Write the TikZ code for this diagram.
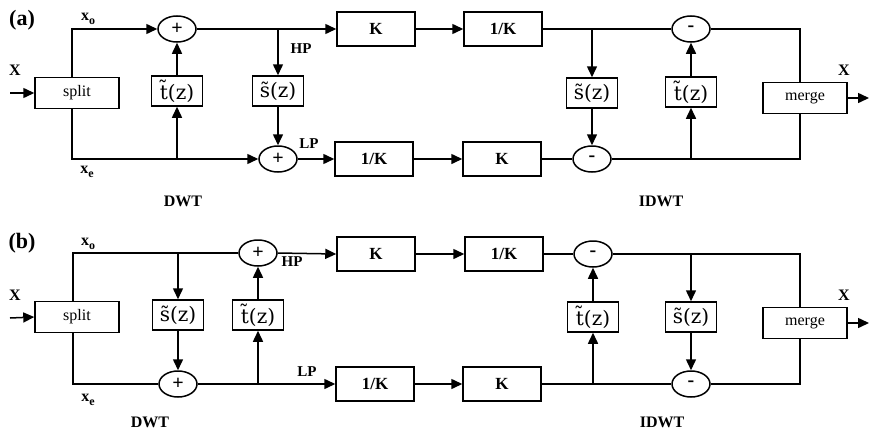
\documentclass[tikz,border=0pt]{standalone}
\usepackage{fontspec}
\setmainfont{Liberation Serif}
\newfontfamily\tzfont{DejaVu Serif}
\usetikzlibrary{shapes.geometric,arrows.meta}
\newcommand\subo[1]{\raisebox{-4pt}{\fontsize{12}{12}\selectfont\bfseries #1}}
\tikzset{
  ln/.style={line width=1.5pt},
  ar/.style={ln,-{Triangle[length=11pt,width=10pt]}},
  blk/.style={draw,line width=1.5pt,minimum width=78pt,minimum height=34pt,inner sep=0pt,font=\fontsize{17}{17}\selectfont\bfseries},
  wide/.style={draw,line width=1.5pt,minimum width=84pt,minimum height=31pt,inner sep=0pt,font=\fontsize{16}{16}\selectfont},
  flt/.style={draw,line width=1.5pt,minimum width=51pt,minimum height=30pt,inner sep=0pt,font=\tzfont\fontsize{20}{20}\selectfont},
  sum/.style={draw,ellipse,line width=1.5pt,minimum width=38pt,minimum height=26pt,inner sep=0pt,font=\fontsize{20}{20}\selectfont\bfseries},
  lbl/.style={font=\fontsize{16}{16}\selectfont\bfseries,inner sep=0pt},
  sml/.style={font=\fontsize{15}{15}\selectfont\bfseries,inner sep=0pt},
  big/.style={font=\fontsize{22}{22}\selectfont\bfseries,inner sep=0pt},
}
\begin{document}
\begin{tikzpicture}[x=1pt,y=-1pt]
\useasboundingbox (0,0) rectangle (869,431);
% ---------------- panel (a) ----------------
\node[big] (labA) at (22,20) {(a)};
\node[wide] (splitA) at (77,93) {split};
\coordinate (inA) at (10,93);
\node[sum] (pA) at (177,29) {+};
\node[sum] (pB) at (278,159) {+};
\node[flt] (tA) at (177,91) {\~{t}(z)};
\node[flt] (sA) at (278,91) {\~{s}(z)};
\node[blk] (kA) at (376,29) {K};
\node[blk] (ikA) at (503,29) {1/K};
\node[blk] (ikB) at (374,159) {1/K};
\node[blk] (kB) at (502,159) {K};
\node[sum] (mA) at (691,29) {-};
\node[sum] (mB) at (592,159) {-};
\node[flt] (sA2) at (592,93) {\~{s}(z)};
\node[flt] (tA2) at (691,92) {\~{t}(z)};
\node[wide] (mergeA) at (805,98) {merge};
\coordinate (outA) at (869,98);
\coordinate (tAin) at (177,159);
\coordinate (sAin) at (278,29);
\coordinate (sA2in) at (592,29);
\coordinate (tA2in) at (691,159);

\draw[ar] (inA) -- (splitA.west);
\draw[ar] ([xshift=-5pt]splitA.north) |- (pA.west);
\draw[ar] ([xshift=-5pt]splitA.south) |- (pB.west);
\draw[ar] (tAin) -- (tA.south);
\draw[ar] (tA.north) -- (pA.south);
\draw[ar] (pA.east) -- (kA.west);
\draw[ar] (sAin) -- (sA.north);
\draw[ar] (sA.south) -- (pB.north);
\draw[ar] (pB.east) -- (ikB.west);
\draw[ar] (kA.east) -- (ikA.west);
\draw[ar] (ikB.east) -- (kB.west);
\draw[ln] (ikA.east) -- (mA.west);
\draw[ar] (sA2in) -- (sA2.north);
\draw[ar] (sA2.south) -- (mB.north);
\draw[ln] (kB.east) -- (mB.west);
\draw[ar] (tA2in) -- (tA2.south);
\draw[ar] (tA2.north) -- (mA.south);
\draw[ln] (mA.east) -| ([xshift=-5pt]mergeA.north);
\draw[ln] (mB.east) -| ([xshift=-5pt]mergeA.south);
\draw[ar] (mergeA.east) -- (outA);

\node[lbl] (xA) at (15,70) {X};
\node[lbl] (xoA) at (88,19) {x\subo{o}};
\node[lbl] (xeA) at (87,172) {x\subo{e}};
\node[sml] (hpA) at (301,49) {HP};
\node[sml] (lpA) at (309,144) {LP};
\node[lbl] (dwtA) at (183,201) {DWT};
\node[lbl] (idwtA) at (661,201) {IDWT};
\node[lbl] (xoutA) at (844,70) {X};

% ---------------- panel (b) ----------------
\node[big] (labB) at (22,243) {(b)};
\node[wide] (splitB) at (77,317) {split};
\coordinate (inB) at (10,318);
\node[sum] (qT) at (258,253) {+};
\node[sum] (qB) at (178,384) {+};
\node[flt] (sB) at (178,315) {\~{s}(z)};
\node[flt] (tB) at (258,315) {\~{t}(z)};
\node[blk] (kC) at (376,254) {K};
\node[blk] (ikC) at (504,254) {1/K};
\node[blk] (ikD) at (375,384) {1/K};
\node[blk] (kD) at (502,384) {K};
\node[sum] (nT) at (593,254) {-};
\node[sum] (nB) at (691,384) {-};
\node[flt] (tB2) at (593,317) {\~{t}(z)};
\node[flt] (sB2) at (691,317) {\~{s}(z)};
\node[wide] (mergeB) at (805,323) {merge};
\coordinate (outB) at (869,323);
\coordinate (sBin) at (178,253);
\coordinate (tBin) at (258,384);
\coordinate (tB2in) at (593,384);
\coordinate (sB2in) at (691,254);

\draw[ar] (inB) -- (splitB.west);
\draw[ln] ([xshift=-4pt]splitB.north) |- (qT.west);
\draw[ln] ([xshift=-4pt]splitB.south) |- (qB.west);
\draw[ar] (sBin) -- (sB.north);
\draw[ar] (sB.south) -- (qB.north);
\draw[ar] (tBin) -- (tB.south);
\draw[ar] (tB.north) -- (qT.south);
\draw[ar] (qT.east) -- (kC.west);
\draw[ar] (qB.east) -- (ikD.west);
\draw[ar] (kC.east) -- (ikC.west);
\draw[ar] (ikD.east) -- (kD.west);
\draw[ln] (ikC.east) -- (nT.west);
\draw[ln] (kD.east) -- (nB.west);
\draw[ar] (tB2in) -- (tB2.south);
\draw[ar] (tB2.north) -- (nT.south);
\draw[ar] (sB2in) -- (sB2.north);
\draw[ar] (sB2.south) -- (nB.north);
\draw[ln] (nT.east) -| ([xshift=-5pt]mergeB.north);
\draw[ln] (nB.east) -| ([xshift=-5pt]mergeB.south);
\draw[ar] (mergeB.east) -- (outB);

\node[lbl] (xB) at (15,295) {X};
\node[lbl] (xoB) at (88,244) {x\subo{o}};
\node[lbl] (xeB) at (88,400) {x\subo{e}};
\node[sml] (hpB) at (292,262) {HP};
\node[sml] (lpB) at (307,372) {LP};
\node[lbl] (dwtB) at (150,422) {DWT};
\node[lbl] (idwtB) at (662,422) {IDWT};
\node[lbl] (xoutB) at (844,295) {X};
\end{tikzpicture}
\end{document}
